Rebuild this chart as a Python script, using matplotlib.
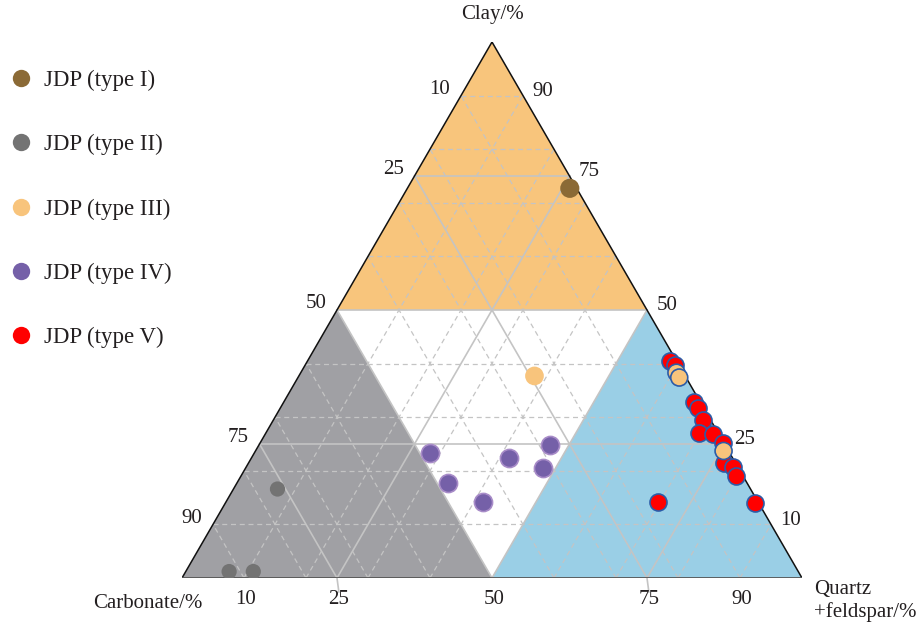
import numpy as np
import matplotlib
matplotlib.use("Agg")
import matplotlib.pyplot as plt
from matplotlib.lines import Line2D
from matplotlib.patches import Polygon

plt.rcParams['font.family'] = ['Liberation Serif', 'DejaVu Serif']

# ternary data: quartz+feldspar (q), clay (c); carbonate = 100 - q - c
type1_q = [26.2]
type1_c = [72.7]
type2_q = [7.1, 7.0, 10.9]
type2_c = [16.6, 1.2, 1.2]
type3_q = [38.0, 60.6, 61.5, 75.5]
type3_c = [37.7, 38.3, 37.4, 23.7]
type4_q = [28.3, 34.1, 41.4, 41.6, 48.0, 46.9]
type4_c = [23.3, 17.7, 14.2, 22.4, 20.6, 24.8]
type5_q = [58.5, 59.6, 66.2, 67.4, 69.3, 69.9, 72.2, 74.6, 76.7, 78.6, 79.8, 69.7, 85.4]
type5_c = [40.4, 39.7, 32.9, 31.7, 29.4, 27.1, 26.9, 25.2, 21.4, 20.7, 19.0, 14.2, 14.0]

tick_vals = [10, 25, 50, 75, 90]
labels = ["JDP (type I)", "JDP (type II)", "JDP (type III)", "JDP (type IV)", "JDP (type V)"]

S = np.sqrt(3) / 2
TXT = '#231f20'
GRID = '#c4c4c4'
PX = 0.72  # pixels -> points at dpi 100


def tern(q, c):
    q = np.asarray(q, float) / 100
    c = np.asarray(c, float) / 100
    return q + c / 2, c * S


fig = plt.figure(figsize=(9.19, 6.26), dpi=100)
ax = fig.add_axes([182 / 919, 48 / 626, 620 / 919, 536 / 626])
ax.set_xlim(0, 1)
ax.set_ylim(0, S)
ax.axis('off')

# fields
ax.add_patch(Polygon([tern(0, 50), tern(50, 50), tern(0, 100)], closed=True,
                     fc='#f8c57c', ec='none', zorder=1))
ax.add_patch(Polygon([tern(0, 0), tern(50, 0), tern(0, 50)], closed=True,
                     fc='#a0a0a4', ec='none', zorder=1))
ax.add_patch(Polygon([tern(50, 0), tern(100, 0), tern(50, 50)], closed=True,
                     fc='#9acfe6', ec='none', zorder=1))

# grid lines: dashed every 10, solid at 25/50/75
for v in [10, 20, 25, 30, 40, 50, 60, 70, 75, 80, 90]:
    solid = v % 25 == 0
    kw = dict(color=GRID, lw=1.2 if solid else 0.9,
              ls='-' if solid else (0, (4, 3)), zorder=2)
    ax.plot(*tern([0, 100 - v], [v, v]), **kw)        # clay = v
    ax.plot(*tern([v, v], [0, 100 - v]), **kw)        # quartz = v
    ax.plot(*tern([100 - v, 0], [0, 100 - v]), **kw)  # carbonate = v

# small ticks below the bottom edge for quartz 25 / 75
for v in [25, 75]:
    ax.plot(*tern([v, v + 1.6], [0, -2.6]), color=GRID, lw=1.2, zorder=2, clip_on=False)

# outline
ax.plot(*tern([0, 0], [0, 100]), color='#111111', lw=1.1, zorder=3)
ax.plot(*tern([100, 0], [0, 100]), color='#111111', lw=1.1, zorder=3)
ax.plot(*tern([0, 100], [0, 0]), color='#555555', lw=2.0, zorder=3)

# points
ax.scatter(*tern(type1_q, type1_c), s=190, c='#8b6a36', ec='none', zorder=5)
ax.scatter(*tern(type2_q, type2_c), s=120, c='#737373', ec='none', zorder=5)
ax.scatter(*tern(type5_q, type5_c), s=150, c='#ff0000', ec='#2c5ca8', lw=1.2, zorder=5)
ax.scatter(*tern(type3_q, type3_c), s=150, c='#f8c47c',
           ec=['#f8c47c', '#2c5ca8', '#2c5ca8', '#2c5ca8'], lw=1.2, zorder=6)
ax.scatter(*tern(type4_q, type4_c), s=170, c='#7560a8', ec='#a88cc8', lw=1.2, zorder=5)

# tick labels
fs = 15
common = dict(textcoords='offset points', ha='center', va='center',
              fontsize=fs, color=TXT, annotation_clip=False)
for v in tick_vals:
    ax.annotate(str(v), tern(0, 100 - v), xytext=(-21 * PX, 6 * PX), **common)   # carbonate
    ax.annotate(str(v), tern(100 - v, v), xytext=(20 * PX, 4 * PX), **common)    # clay
    ax.annotate(str(v), tern(v, 0), xytext=(2 * PX, -21 * PX), **common)        # quartz

ax.annotate("Clay/%", tern(0, 100), xytext=(0, 27 * PX), **common)
ax.annotate("Carbonate/%", tern(0, 0), xytext=(-34 * PX, -25 * PX), **common)
ax.annotate("Quartz\n+feldspar/%", tern(100, 0), xytext=(12 * PX, -23 * PX),
            textcoords='offset points', ha='left', va='center', fontsize=fs,
            color=TXT, linespacing=1.15, annotation_clip=False)

# legend
colors = ['#8b6a36', '#737373', '#f8c47c', '#7560a8', '#ff0000']
handles = [Line2D([], [], marker='o', ls='', ms=12.5, mfc=col, mec='none', label=lab)
           for col, lab in zip(colors, labels)]
fig.legend(handles=handles, loc='upper left', bbox_to_anchor=(10 / 919, 1 - 70 / 626),
           frameon=False, fontsize=16.5, labelspacing=1.88, handlelength=1.0,
           handletextpad=0.5, borderaxespad=0, borderpad=0, labelcolor=TXT)

fig.savefig('out.png', dpi=100)
